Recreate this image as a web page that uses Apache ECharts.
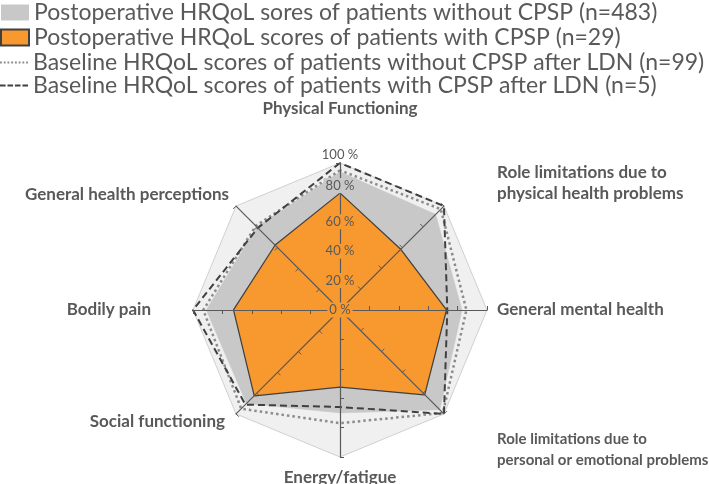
<!DOCTYPE html>
<html>
<head>
<meta charset="utf-8">
<script src="https://cdn.jsdelivr.net/npm/echarts@6/dist/echarts.min.js"></script>
<style>html,body{margin:0;padding:0;background:#fff}#c{width:709px;height:484px}</style>
</head>
<body>
<div id="c"></div>
<script>
// Indicators in ECharts (counter-clockwise from top) order
const indicators = [
  'Physical Functioning',
  'General health perceptions',
  'Bodily pain',
  'Social functioning',
  'Energy/fatigue',
  'Role limitations due to\npersonal or emotional problems',
  'General mental health',
  'Role limitations due to\nphysical health problems'
];
const seriesNames = [
  'Postoperative HRQoL sores of patients without CPSP (n=483)',
  'Postoperative HRQoL scores of patients with CPSP (n=29)',
  'Baseline HRQoL scores of patients without CPSP after LDN (n=99)',
  'Baseline HRQoL scores of patients with CPSP after LDN (n=5)'
];
const postopNoCPSP   = [94, 80, 91, 90, 70, 96, 83, 92];
const postopCPSP     = [79, 62, 72, 82, 52, 81, 72, 58];
const baselineNoCPSP = [95, 81, 93, 95, 77, 99, 86, 97];
const baselineCPSP   = [100, 79, 100, 91, 66, 100, 73, 100];
const tickValues = [0, 20, 40, 60, 80, 100];

const FONT = 'Lato';
const chart = echarts.init(document.getElementById('c'), null, {renderer: 'canvas'});

const dotPath = 'path://M0,0h2v2h-2z M4,0h2v2h-2z M8,0h2v2h-2z M12,0h2v2h-2z M16,0h2v2h-2z M20,0h2v2h-2z M24,0h2v2h-2z M28,0h2v2h-2z';
const dashPath = 'path://M0,0h6v2h-6z M8,0h6v2h-6z M16,0h6v2h-6z M24,0h6v2h-6z';

function nameFormatter(name) {
  switch (name) {
    case 'Physical Functioning': return '{t|' + name + '}\n{s34| }';
    case 'Role limitations due to\nphysical health problems':
      return '{r|Role limitations due to}\n{r|physical health problems}\n{s32| }';
    case 'General mental health': return '{t|' + name + '}';
    case 'Role limitations due to\npersonal or emotional problems':
      return '{s58| }\n{rs|Role limitations due to}\n{rs|personal or emotional problems}';
    case 'Energy/fatigue': return '{t|' + name + '}';
    case 'Social functioning': return '{ls|' + name + '}';
    case 'Bodily pain': return '{l|' + name + '}';
    case 'General health perceptions': return '{t|' + name + '}\n{s8| }';
  }
  return name;
}
const nameText = {fontFamily: FONT, fontWeight: 'bold', fontSize: 17, color: '#595959', lineHeight: 21};
const tickTextBase = {fontFamily: FONT, fontSize: 13, color: '#595959'};

chart.setOption({
  animation: false,
  backgroundColor: '#ffffff',
  legend: [
    {
      orient: 'vertical', left: 0, top: 1, padding: 0, itemGap: 2,
      itemWidth: 28, itemHeight: 16,
      textStyle: {fontFamily: FONT, fontSize: 23, color: '#595959'},
      data: [
        {name: seriesNames[0], icon: 'rect', itemStyle: {color: '#c8c8c8', borderWidth: 0}},
        {name: seriesNames[1], icon: 'rect', itemStyle: {color: '#f7992f', borderColor: '#404040', borderWidth: 2}}
      ]
    },
    {
      orient: 'vertical', left: 0, top: 51, padding: 0, itemGap: 0,
      itemWidth: 28, itemHeight: 2,
      textStyle: {fontFamily: FONT, fontSize: 23, color: '#595959'},
      data: [
        {name: seriesNames[2], icon: dotPath, itemStyle: {color: '#8c8c8c', borderWidth: 0}},
        {name: seriesNames[3], icon: dashPath, itemStyle: {color: '#404040', borderWidth: 0}}
      ]
    }
  ],
  radar: [
    {
      // axes, ticks, labels, names (drawn above the series)
      z: 5,
      center: [340, 310],
      radius: 147,
      startAngle: 90,
      shape: 'polygon',
      splitNumber: 5,
      nameGap: 10,
      indicator: indicators.map((n, i) => {
        const o = {name: n, min: 0, max: 100};
        if (i === 0) {
          o.axisLabel = {
            show: true, margin: 0, align: 'center', verticalAlign: 'middle',
            fontFamily: FONT, fontSize: 13, color: '#595959',
            formatter: function (v) {
              if (v <= 60) return '{o|' + v + ' %}';
              if (v === 80) return '{g|' + v + ' %}\n{s14| }';
              return '{n|' + v + ' %}\n{s16| }';
            },
            rich: {
              o: Object.assign({backgroundColor: '#f7992f', padding: [1, 2]}, tickTextBase),
              g: Object.assign({backgroundColor: '#c8c8c8', padding: [1, 2]}, tickTextBase),
              n: Object.assign({padding: [1, 2]}, tickTextBase),
              s14: {height: 14, fontSize: 1},
              s16: {height: 16, fontSize: 1}
            }
          };
        }
        return o;
      }),
      axisName: {
        color: '#595959', fontFamily: FONT, fontWeight: 'bold', fontSize: 17,
        formatter: nameFormatter,
        rich: {
          t: Object.assign({}, nameText),
          r: Object.assign({padding: [0, 0, 0, 46]}, nameText),
          rs: Object.assign({}, nameText, {fontSize: 15, padding: [0, 0, 0, 46]}),
          l: Object.assign({padding: [0, 32, 0, 0]}, nameText),
          ls: Object.assign({padding: [0, 4, 0, 0]}, nameText),
          s34: {height: 34, fontSize: 1},
          s32: {height: 32, fontSize: 1},
          s58: {height: 58, fontSize: 1},
          s8: {height: 8, fontSize: 1}
        }
      },
      axisLine: {show: true, lineStyle: {color: '#595959', width: 1.2}},
      axisTick: {show: true, length: 4, lineStyle: {color: '#595959', width: 1}},
      axisLabel: {show: false},
      splitLine: {show: false},
      splitArea: {show: false}
    },
    {
      // background octagon
      z: 0,
      center: [340, 310],
      radius: 147,
      startAngle: 90,
      shape: 'polygon',
      splitNumber: 5,
      indicator: indicators.map(n => ({name: n, min: 0, max: 100})),
      axisName: {show: false},
      axisLine: {show: false},
      axisTick: {show: false},
      axisLabel: {show: false},
      splitLine: {show: true, lineStyle: {color: ['transparent', 'transparent', 'transparent', 'transparent', 'transparent', '#d0d0d0'], width: 1}},
      splitArea: {show: true, areaStyle: {color: ['#f0f0f0']}}
    }
  ],
  series: [{
    type: 'radar',
    radarIndex: 0,
    silent: true,
    symbol: 'none',
    data: [
      {name: seriesNames[0], value: postopNoCPSP,
        areaStyle: {color: '#c8c8c8', opacity: 1},
        lineStyle: {color: '#c8c8c8', width: 0.5},
        itemStyle: {color: '#c8c8c8'}},
      {name: seriesNames[1], value: postopCPSP,
        areaStyle: {color: '#f7992f', opacity: 1},
        lineStyle: {color: '#404040', width: 2.5},
        itemStyle: {color: '#f7992f', borderColor: '#404040'}},
      {name: seriesNames[2], value: baselineNoCPSP,
        lineStyle: {color: '#8c8c8c', width: 2.5, type: [2.5, 3]},
        itemStyle: {color: '#8c8c8c'}},
      {name: seriesNames[3], value: baselineCPSP,
        lineStyle: {color: '#404040', width: 2, type: [7, 4]},
        itemStyle: {color: '#404040'}}
    ]
  }]
});
</script>
</body>
</html>
